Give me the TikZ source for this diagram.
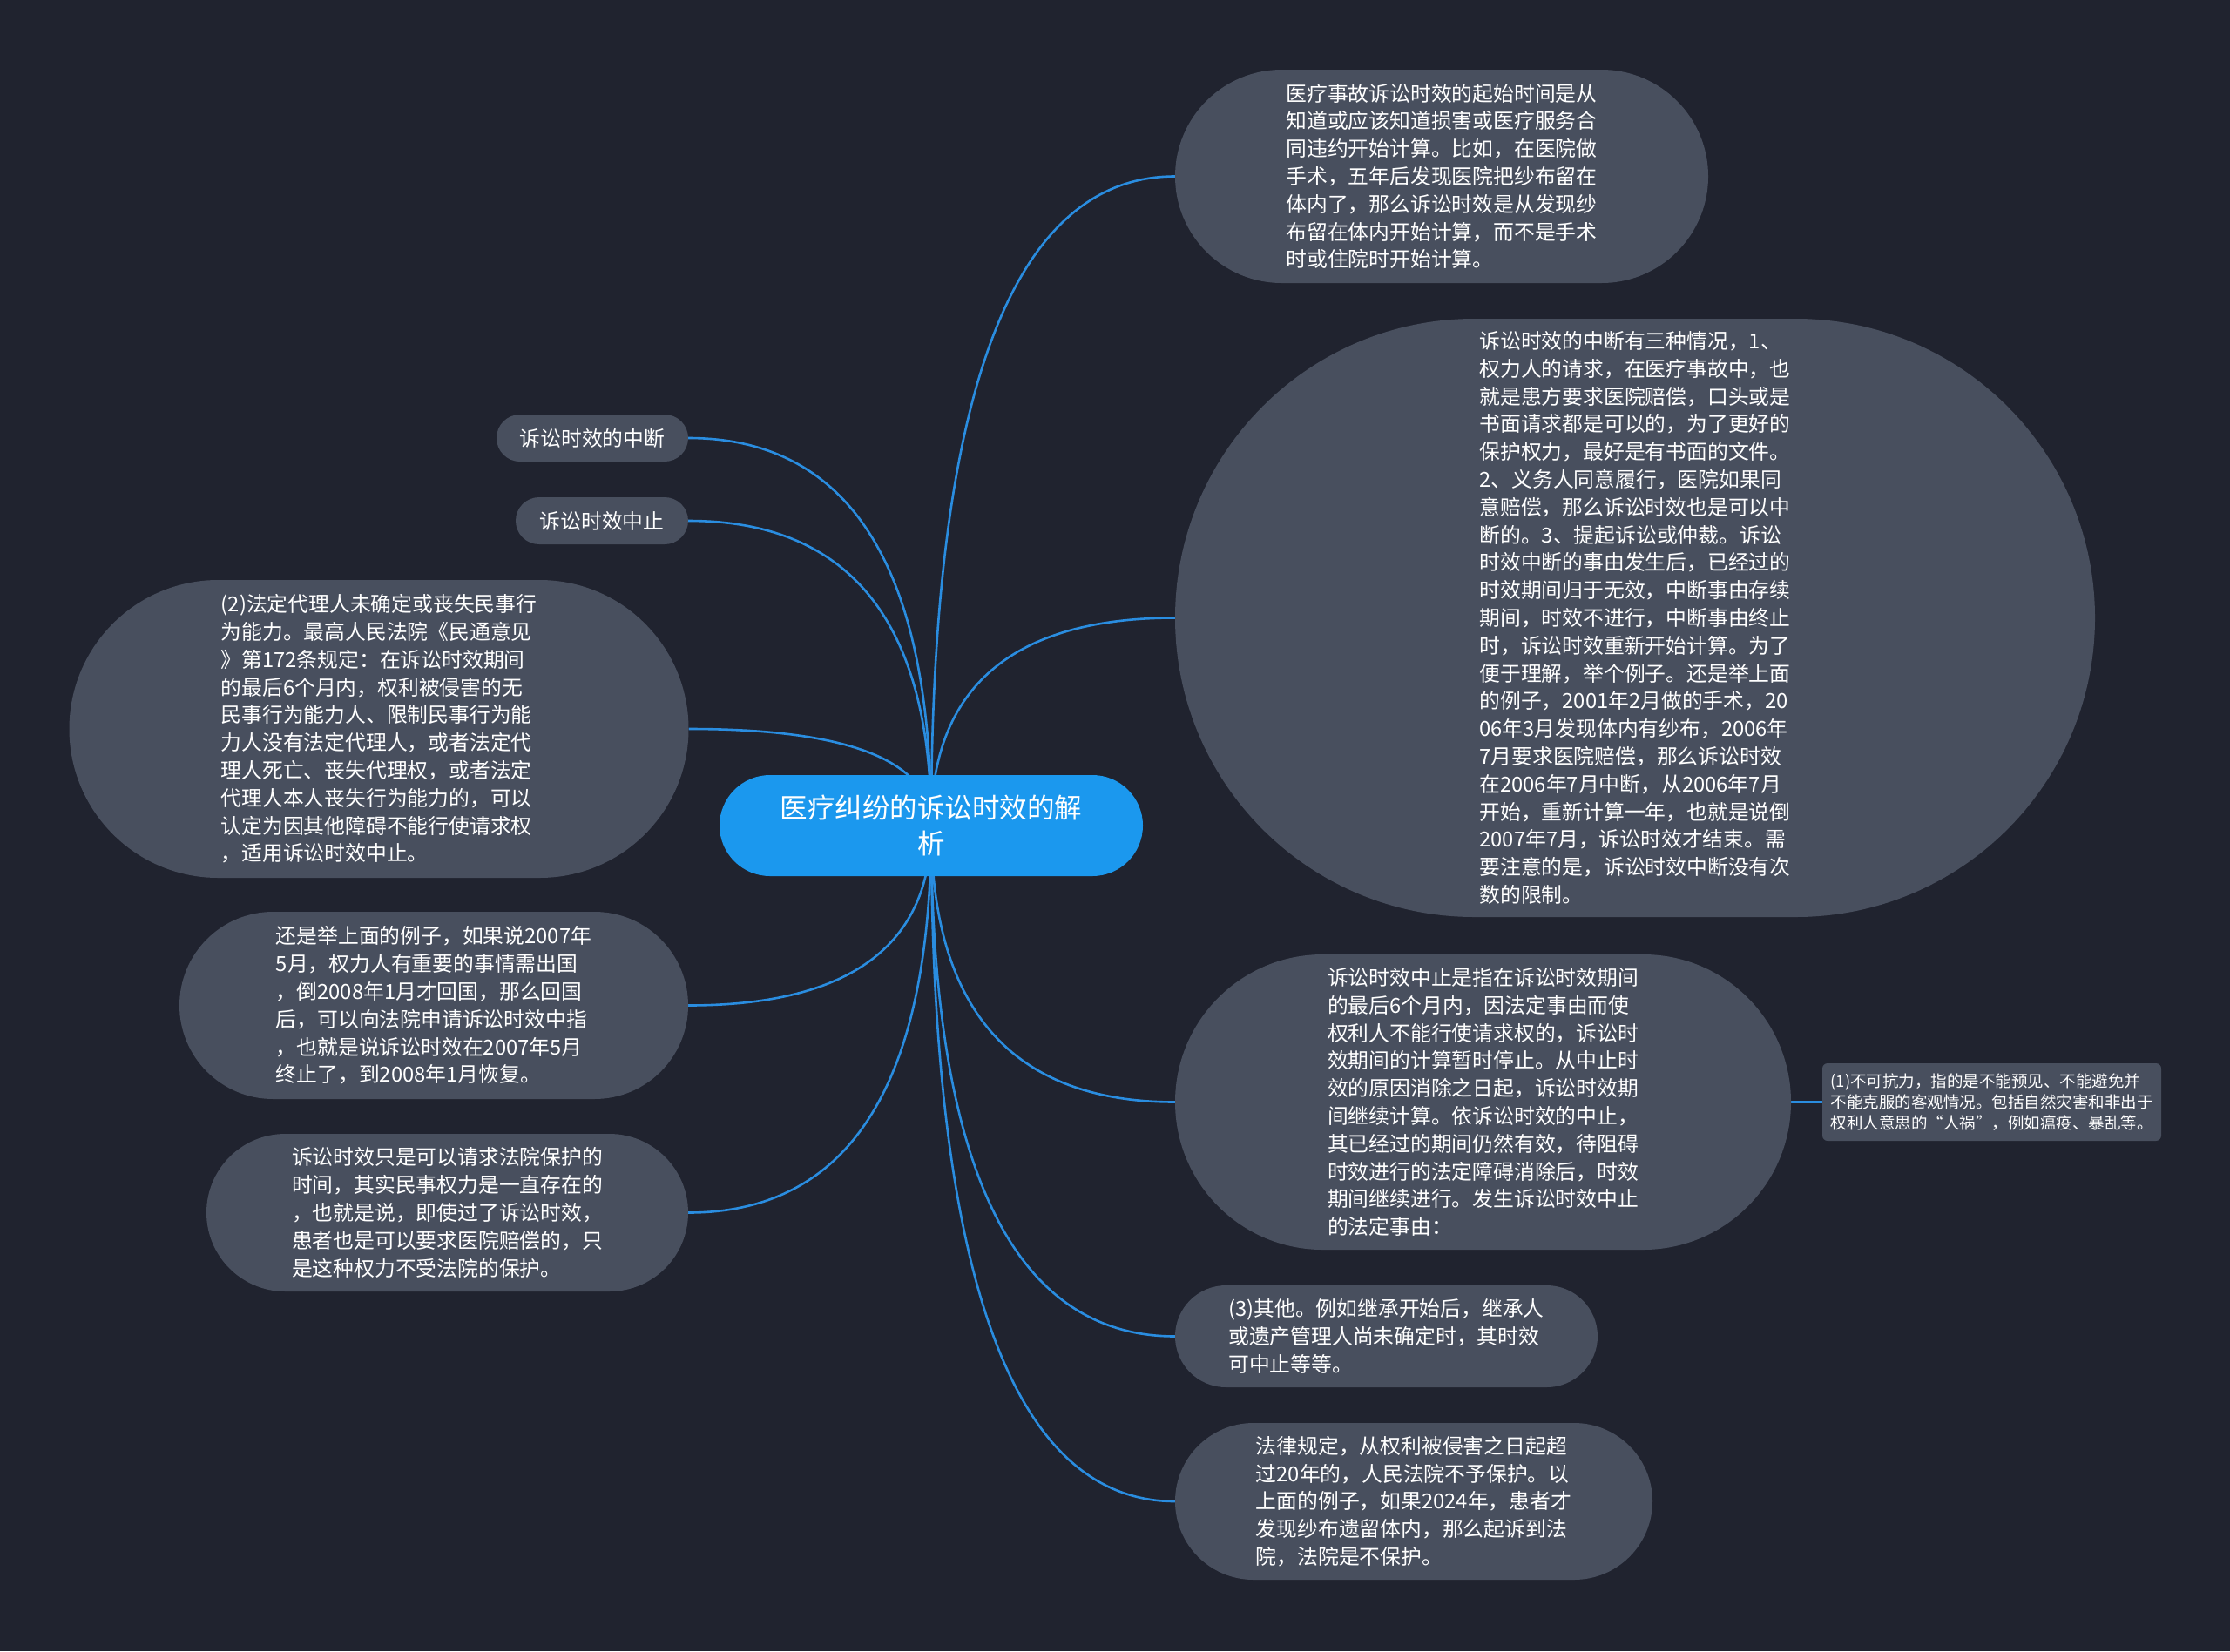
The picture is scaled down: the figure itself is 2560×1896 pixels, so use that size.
\documentclass[tikz,border=0pt]{standalone}
\usepackage{fontspec}
\setmainfont{Noto Sans CJK SC}
\usetikzlibrary{calc}
\definecolor{bgc}{HTML}{20232F}
\definecolor{nodec}{HTML}{484F5E}
\definecolor{rootc}{HTML}{1B98EE}
\definecolor{linec}{HTML}{2A8DE0}
\pgfdeclarelayer{bg}
\pgfsetlayers{bg,main}
\tikzset{
  topic/.style={rectangle, fill=nodec, text=white, align=left, inner sep=0pt,
    rounded corners=#1, font=\fontsize{23.8pt}{31.8pt}\selectfont},
  roottopic/.style={rectangle, fill=rootc, text=white, align=center, inner sep=0pt,
    rounded corners=58pt, font=\fontsize{31.5pt}{41pt}\selectfont},
  smalltopic/.style={rectangle, fill=nodec, text=white, align=left, inner sep=0pt,
    rounded corners=6pt, font=\fontsize{18.5pt}{23.7pt}\selectfont},
  branch/.style={draw=linec, line width=2.6pt,
    to path={.. controls ($(\tikztostart)!0.6667!(\tikztostart |- \tikztotarget)$)
      and ($(\tikztotarget)!0.6667!(\tikztostart |- \tikztotarget)$) .. (\tikztotarget)}},
  straight/.style={draw=linec, line width=2.6pt}
}
\begin{document}
\begin{tikzpicture}[x=1pt,y=-1pt]
\useasboundingbox (0,0) rectangle (2560,1896);

\node[roottopic, minimum width=486pt, minimum height=116pt] (c) at (1069,948)
  {医疗纠纷的诉讼时效的解\\析};

\node[topic=122.5pt, minimum width=612pt, minimum height=245pt] (r1) at (1655,202.5)
  {医疗事故诉讼时效的起始时间是从\\知道或应该知道损害或医疗服务合\\同违约开始计算。比如，在医院做\\手术，五年后发现医院把纱布留在\\体内了，那么诉讼时效是从发现纱\\布留在体内开始计算，而不是手术\\时或住院时开始计算。};

\node[topic=343.5pt, minimum width=1056pt, minimum height=687pt] (r2) at (1877,709.5)
  {诉讼时效的中断有三种情况，1、\\权力人的请求，在医疗事故中，也\\就是患方要求医院赔偿，口头或是\\书面请求都是可以的，为了更好的\\保护权力，最好是有书面的文件。\\2、义务人同意履行，医院如果同\\意赔偿，那么诉讼时效也是可以中\\断的。3、提起诉讼或仲裁。诉讼\\时效中断的事由发生后，已经过的\\时效期间归于无效，中断事由存续\\期间，时效不进行，中断事由终止\\时，诉讼时效重新开始计算。为了\\便于理解，举个例子。还是举上面\\的例子，2001年2月做的手术，20\\06年3月发现体内有纱布，2006年\\7月要求医院赔偿，那么诉讼时效\\在2006年7月中断，从2006年7月\\开始，重新计算一年，也就是说倒\\2007年7月，诉讼时效才结束。需\\要注意的是，诉讼时效中断没有次\\数的限制。};

\node[topic=169.5pt, minimum width=707pt, minimum height=339pt] (r3) at (1702.5,1265.5)
  {诉讼时效中止是指在诉讼时效期间\\的最后6个月内，因法定事由而使\\权利人不能行使请求权的，诉讼时\\效期间的计算暂时停止。从中止时\\效的原因消除之日起，诉讼时效期\\间继续计算。依诉讼时效的中止，\\其已经过的期间仍然有效，待阻碍\\时效进行的法定障碍消除后，时效\\期间继续进行。发生诉讼时效中止\\的法定事由：};

\node[smalltopic, minimum width=389pt, minimum height=89pt] (r3a) at (2286.5,1265.5)
  {(1)不可抗力，指的是不能预见、不能避免并\\不能克服的客观情况。包括自然灾害和非出于\\权利人意思的“人祸”，例如瘟疫、暴乱等。};

\node[topic=58.5pt, minimum width=485pt, minimum height=117pt] (r4) at (1591.5,1534.5)
  {(3)其他。例如继承开始后，继承人\\或遗产管理人尚未确定时，其时效\\可中止等等。};

\node[topic=90pt, minimum width=548pt, minimum height=180pt] (r5) at (1623,1724)
  {法律规定，从权利被侵害之日起超\\过20年的，人民法院不予保护。以\\上面的例子，如果2024年，患者才\\发现纱布遗留体内，那么起诉到法\\院，法院是不保护。};

\node[topic=27pt, minimum width=220pt, minimum height=54pt] (l1) at (680,503)
  {诉讼时效的中断};

\node[topic=27pt, minimum width=198pt, minimum height=54pt] (l2) at (691,598)
  {诉讼时效中止};

\node[topic=171pt, minimum width=711pt, minimum height=342pt] (l3) at (435,837)
  {(2)法定代理人未确定或丧失民事行\\为能力。最高人民法院《民通意见\\》第172条规定：在诉讼时效期间\\的最后6个月内，权利被侵害的无\\民事行为能力人、限制民事行为能\\力人没有法定代理人，或者法定代\\理人死亡、丧失代理权，或者法定\\代理人本人丧失行为能力的，可以\\认定为因其他障碍不能行使请求权\\，适用诉讼时效中止。};

\node[topic=107.5pt, minimum width=584pt, minimum height=215pt] (l4) at (498,1154.5)
  {还是举上面的例子，如果说2007年\\5月，权力人有重要的事情需出国\\，倒2008年1月才回国，那么回国\\后，可以向法院申请诉讼时效中指\\，也就是说诉讼时效在2007年5月\\终止了，到2008年1月恢复。};

\node[topic=90.5pt, minimum width=553pt, minimum height=181pt] (l5) at (513.5,1392.5)
  {诉讼时效只是可以请求法院保护的\\时间，其实民事权力是一直存在的\\，也就是说，即使过了诉讼时效，\\患者也是可以要求医院赔偿的，只\\是这种权力不受法院的保护。};

\begin{pgfonlayer}{bg}
\fill[bgc] (0,0) rectangle (2560,1896);
\draw[branch] (c.center) to (r1.west);
\draw[branch] (c.center) to (r2.west);
\draw[branch] (c.center) to (r3.west);
\draw[branch] (c.center) to (r4.west);
\draw[branch] (c.center) to (r5.west);
\draw[branch] (c.center) to (l1.east);
\draw[branch] (c.center) to (l2.east);
\draw[branch] (c.center) to (l3.east);
\draw[branch] (c.center) to (l4.east);
\draw[branch] (c.center) to (l5.east);
\draw[straight] (r3.east) -- (r3a.west);
\end{pgfonlayer}
\end{tikzpicture}
\end{document}
